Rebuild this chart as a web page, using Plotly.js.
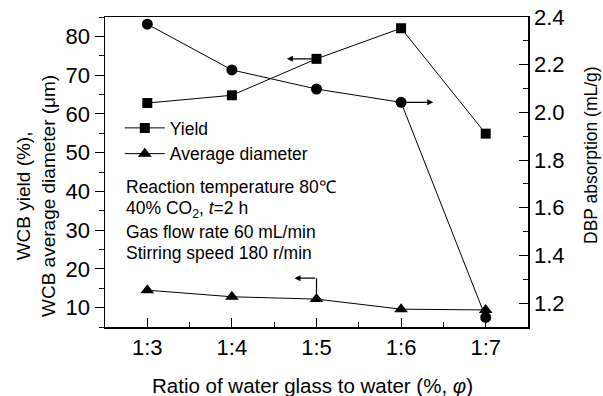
<!DOCTYPE html>
<html>
<head>
<meta charset="utf-8">
<script src="https://cdn.plot.ly/plotly-3.0.1.min.js"></script>
<style>html,body{margin:0;padding:0;background:#fff;}#chart{width:603px;height:396px;}</style>
</head>
<body>
<div id="chart"></div>
<script>
// ---- data ----
const categories = ["1:3", "1:4", "1:5", "1:6", "1:7"];
const yieldPct = [62.8, 64.8, 74.2, 82.1, 54.9];
const avgDiameter = [14.5, 12.8, 12.2, 9.6, 9.4];
const dbpAbsorption = [2.37, 2.178, 2.098, 2.042, 1.14];
const leftTicks = [10, 20, 30, 40, 50, 60, 70, 80];
const rightTicks = [1.2, 1.4, 1.6, 1.8, 2.0, 2.2, 2.4];

const xIdx = categories.map((c, i) => i);
const FONT = "Liberation Sans, Arial, sans-serif";

const traces = [
  {
    x: xIdx, y: yieldPct, name: "Yield", type: "scatter", mode: "lines+markers",
    line: {color: "#000", width: 1}, marker: {symbol: "square", size: 10, color: "#000"},
    yaxis: "y"
  },
  {
    x: xIdx, y: avgDiameter, name: "Average diameter", type: "scatter", mode: "lines+markers",
    line: {color: "#000", width: 1}, marker: {symbol: "triangle-up", size: 12, color: "#000"},
    yaxis: "y"
  },
  {
    x: xIdx, y: dbpAbsorption, name: "DBP absorption", type: "scatter", mode: "lines+markers",
    line: {color: "#000", width: 1}, marker: {symbol: "circle", size: 11, color: "#000"},
    yaxis: "y2", showlegend: false
  }
];

const arrowStyle = {text: "", showarrow: true, arrowhead: 2, arrowsize: 1, arrowwidth: 1.2, arrowcolor: "#000", standoff: 0, startstandoff: 0};

const annotations = [
  // yield -> left axis
  Object.assign({x: 1.65, y: yieldPct[2], xref: "x", yref: "y", ax: xIdx[2], ay: yieldPct[2], axref: "x", ayref: "y"}, arrowStyle),
  // DBP -> right axis
  Object.assign({x: 3.38, y: dbpAbsorption[3], xref: "x", yref: "y2", ax: xIdx[3], ay: dbpAbsorption[3], axref: "x", ayref: "y2"}, arrowStyle),
  // diameter -> left axis (horizontal part)
  Object.assign({x: 1.74, y: 17.6, xref: "x", yref: "y", ax: xIdx[2], ay: 17.6, axref: "x", ayref: "y"}, arrowStyle),
  // condition text
  {xref: "paper", yref: "paper", x: 0.045, y: 1 - (187 - 17) / 310, xanchor: "left", yanchor: "middle", showarrow: false,
   text: "Reaction temperature 80\u2103", font: {family: FONT, size: 17.5, color: "#000"}},
  {xref: "paper", yref: "paper", x: 0.045, y: 1 - (209 - 17) / 310, xanchor: "left", yanchor: "middle", showarrow: false,
   text: "40% CO<sub>2</sub>, <i>t</i>=2 h", font: {family: FONT, size: 17.5, color: "#000"}},
  {xref: "paper", yref: "paper", x: 0.045, y: 1 - (231.5 - 17) / 310, xanchor: "left", yanchor: "middle", showarrow: false,
   text: "Gas flow rate 60 mL/min", font: {family: FONT, size: 17.5, color: "#000"}},
  {xref: "paper", yref: "paper", x: 0.045, y: 1 - (253 - 17) / 310, xanchor: "left", yanchor: "middle", showarrow: false,
   text: "Stirring speed 180 r/min", font: {family: FONT, size: 17.5, color: "#000"}},
  // axis titles
  {xref: "paper", yref: "paper", x: (36 - 105) / 423, y: 1 - (196 - 17) / 310, xanchor: "center", yanchor: "middle",
   showarrow: false, textangle: -90, text: "WCB yield (%),<br>WCB average diameter (\u03bcm)",
   font: {family: FONT, size: 19, color: "#000"}},
  {xref: "paper", yref: "paper", x: (591 - 105) / 423, y: 1 - (155 - 17) / 310, xanchor: "center", yanchor: "middle",
   showarrow: false, textangle: -90, text: "DBP absorption (mL/g)",
   font: {family: FONT, size: 17.5, color: "#000"}},
  {xref: "paper", yref: "paper", x: (312.5 - 105) / 423, y: (327 - 385) / 310, xanchor: "center", yanchor: "middle",
   showarrow: false, text: "Ratio of water glass to water (%, <i>\u03c6</i>)",
   font: {family: FONT, size: 20.5, color: "#000"}}
];

const shapes = [
  {type: "line", xref: "x", yref: "y", x0: xIdx[2], x1: xIdx[2], y0: avgDiameter[2] + 1.5, y1: 17.6, line: {color: "#000", width: 1.2}}
];

const layout = {
  width: 603, height: 396,
  margin: {l: 105, r: 75, t: 17, b: 69, pad: 0},
  paper_bgcolor: "#fff", plot_bgcolor: "#fff",
  font: {family: FONT, size: 22, color: "#000"},
  showlegend: true,
  legend: {x: 0.035, y: 1 - (110 - 17) / 310, xanchor: "left", yanchor: "top", bgcolor: "rgba(0,0,0,0)",
           font: {family: FONT, size: 17.5, color: "#000"}, tracegroupgap: 0, itemwidth: 40},
  xaxis: {
    range: [-0.5, 4.5], tickvals: xIdx, ticktext: categories,
    showline: true, linecolor: "#000", linewidth: 1.5, mirror: true,
    ticks: "inside", ticklen: 9, tickwidth: 1, tickcolor: "#000",
    minor: {dtick: 0.5, tick0: 0.5, ticks: "inside", ticklen: 5, tickwidth: 1, tickcolor: "#000"},
    showgrid: false, zeroline: false, ticklabelstandoff: 0,
    tickfont: {family: FONT, size: 22, color: "#000"}
  },
  yaxis: {
    range: [5, 85], tickvals: leftTicks,
    showline: true, linecolor: "#000", linewidth: 1.5,
    ticks: "outside", ticklen: 9, tickwidth: 1, tickcolor: "#000",
    minor: {dtick: 5, tick0: 5, ticks: "outside", ticklen: 5, tickwidth: 1, tickcolor: "#000"},
    showgrid: false, zeroline: false,
    tickfont: {family: FONT, size: 22, color: "#000"}
  },
  yaxis2: {
    range: [1.1, 2.4], tickvals: rightTicks, ticktext: rightTicks.map(v => v.toFixed(1)),
    overlaying: "y", side: "right",
    showline: true, linecolor: "#000", linewidth: 1.5,
    ticks: "inside", ticklen: 9, tickwidth: 1, tickcolor: "#000",
    minor: {dtick: 0.1, tick0: 1.1, ticks: "inside", ticklen: 5, tickwidth: 1, tickcolor: "#000"},
    showgrid: false, zeroline: false,
    tickfont: {family: FONT, size: 22, color: "#000"}
  },
  annotations: annotations,
  shapes: shapes
};

Plotly.newPlot("chart", traces, layout, {displayModeBar: false, staticPlot: true});
</script>
</body>
</html>
